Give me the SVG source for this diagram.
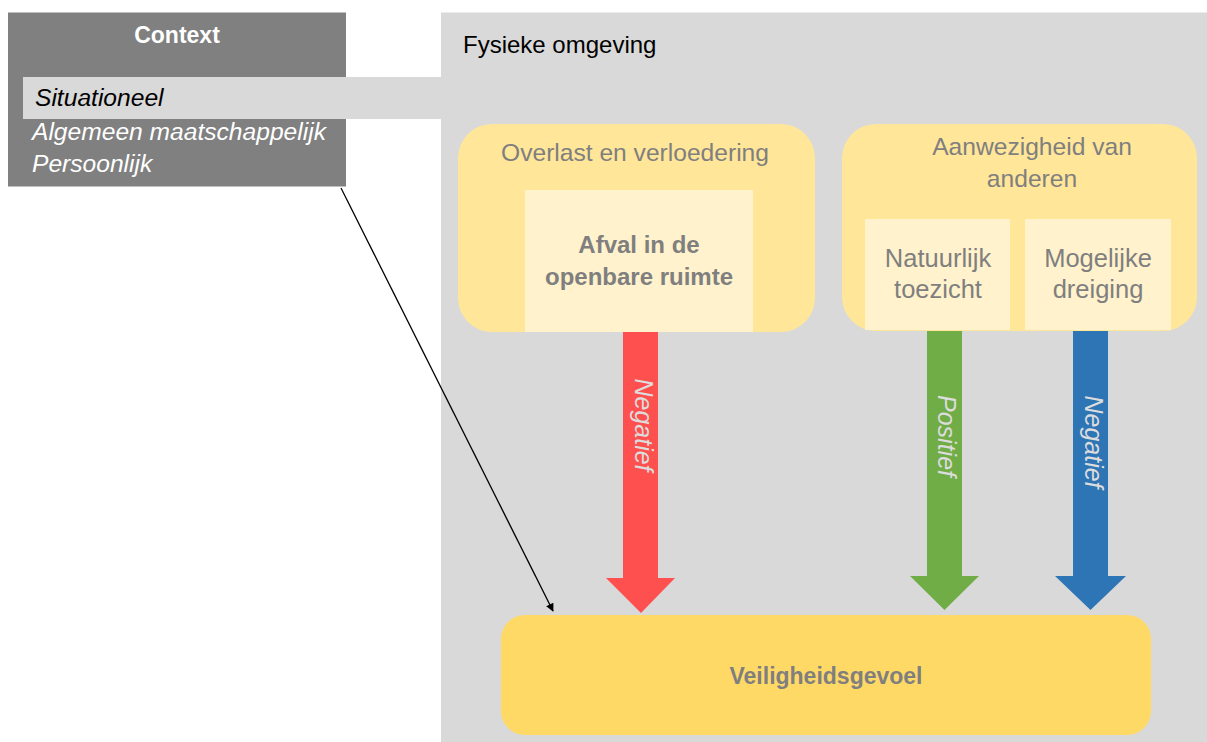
<svg xmlns="http://www.w3.org/2000/svg" width="1207" height="742" viewBox="0 0 1207 742">
<style>
text{font-family:"Liberation Sans",Arial,sans-serif}
.grey{fill:#7f7f7f}
.outer{fill:#ffe699}
.inner{fill:#fff2cc}
.t24{font-size:24.6px}
.t25{font-size:25.5px}
.b{font-weight:bold;font-size:24px}
.lbl{font-size:25px;font-style:italic;fill:#dcdcdc;text-anchor:middle}
.mid{text-anchor:middle}
</style>
<defs>
<marker id="ah" viewBox="0 0 10 10" refX="9" refY="5" markerWidth="11" markerHeight="8" markerUnits="userSpaceOnUse" orient="auto"><path d="M0,0 L10,5 L0,10 z" fill="#000"/></marker>
</defs>
<rect width="1207" height="742" fill="#ffffff"/>
<g id="fysieke-omgeving">
<rect x="441" y="12.5" width="766" height="729.5" fill="#d9d9d9"/>
<text x="463" y="53" font-size="24" fill="#000">Fysieke omgeving</text>
</g>
<g id="context">
<rect x="8" y="12.5" width="338" height="174" fill="#808080"/>
<rect x="23" y="77" width="420" height="42" fill="#d9d9d9"/>
<text x="177" y="43" font-size="23" font-weight="bold" fill="#fff" text-anchor="middle">Context</text>
<text x="35" y="106" font-size="24.6" font-style="italic" fill="#000">Situationeel</text>
<text x="32" y="140" font-size="24.6" font-style="italic" fill="#fff">Algemeen maatschappelijk</text>
<text x="32" y="172" font-size="24.6" font-style="italic" fill="#fff">Persoonlijk</text>
</g>
<g id="overlast">
<rect class="outer" x="458" y="124" width="357" height="208" rx="34"/>
<text class="grey t24 mid" x="635" y="161">Overlast en verloedering</text>
<g id="afval">
<rect class="inner" x="525" y="190" width="228" height="142"/>
<text class="grey b mid" x="639" y="253">Afval in de</text>
<text class="grey b mid" x="639" y="285">openbare ruimte</text>
</g>
</g>
<g id="aanwezigheid">
<rect class="outer" x="842" y="124" width="355" height="207" rx="34"/>
<text class="grey t24 mid" x="1032" y="155">Aanwezigheid van</text>
<text class="grey t24 mid" x="1032" y="187">anderen</text>
<g id="natuurlijk">
<rect class="inner" x="865" y="219" width="145" height="111"/>
<text class="grey t25 mid" x="938" y="267">Natuurlijk</text>
<text class="grey t25 mid" x="938" y="298">toezicht</text>
</g>
<g id="mogelijke">
<rect class="inner" x="1025" y="219" width="146" height="111"/>
<text class="grey t25 mid" x="1098" y="267">Mogelijke</text>
<text class="grey t25 mid" x="1098" y="298">dreiging</text>
</g>
</g>
<g id="veiligheidsgevoel">
<rect x="501" y="615" width="650" height="120" rx="24" fill="#ffd966"/>
<text class="grey mid" x="826" y="684" font-size="23" font-weight="bold">Veiligheidsgevoel</text>
</g>
<g id="connectors">
<g id="arrow-red">
<path d="M623,332 H658 V578 H675 L641,613 L606,578 H623 Z" fill="#ff5050"/>
<text class="lbl" transform="translate(641,425) rotate(90)" y="6">Negatief</text>
</g>
<g id="arrow-green">
<path d="M927,331 H962 V576 H979 L944.5,610 L910,576 H927 Z" fill="#70ad47"/>
<text class="lbl" transform="translate(944,436) rotate(90)" y="6">Positief</text>
</g>
<g id="arrow-blue">
<path d="M1073,331 H1108 V576 H1126 L1090.5,610 L1055,576 H1073 Z" fill="#2e75b6"/>
<text class="lbl" transform="translate(1091,442) rotate(90)" y="6">Negatief</text>
</g>
<line x1="341" y1="188" x2="553" y2="611" stroke="#000" stroke-width="1.3" marker-end="url(#ah)"/>
</g>
</svg>
